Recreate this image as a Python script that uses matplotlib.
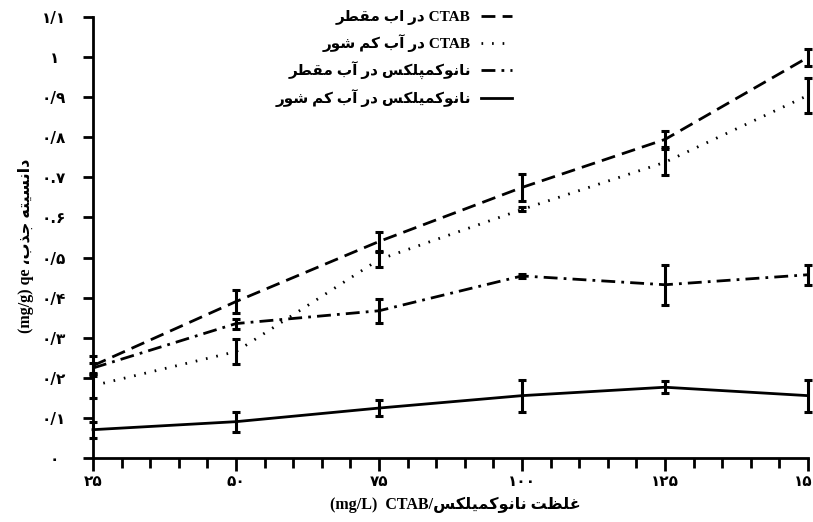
import matplotlib
matplotlib.use("Agg")
import matplotlib.pyplot as plt
from matplotlib.font_manager import FontProperties

# concentration (mg/L)
conc = [25, 50, 75, 100, 125, 150]

ctab_distilled = [0.23, 0.39, 0.54, 0.675, 0.795, 1.0]
ctab_distilled_err = [0.025, 0.029, 0.024, 0.033, 0.02, 0.021]
ctab_brackish = [0.18, 0.265, 0.495, 0.62, 0.738, 0.905]
ctab_brackish_err = [0.03, 0.032, 0.018, 0.005, 0.032, 0.044]
nano_distilled = [0.224, 0.335, 0.367, 0.454, 0.432, 0.457]
nano_distilled_err = [0.012, 0.0125, 0.03, 0.004, 0.05, 0.025]
nano_brackish = [0.07, 0.09, 0.124, 0.155, 0.176, 0.155]
nano_brackish_err = [0.02, 0.025, 0.021, 0.04, 0.015, 0.04]

yticks = [0, 0.1, 0.2, 0.3, 0.4, 0.5, 0.6, 0.7, 0.8, 0.9, 1.0, 1.1]
ytick_labels = ["۰", "۰/۱", "۰/۲", "۰/۳", "۰/۴", "۰/۵", "۰.۶", "۰.۷", "۰/۸", "۰/۹", "۱", "۱/۱"]
xtick_labels = ["۲۵", "۵۰", "۷۵", "۱۰۰", "۱۲۵", "۱۵۰"]

# Arabic presentation forms: isolated, final, initial, medial
FORMS = {
    "ا": ("\uFE8D", "\uFE8E", None, None),
    "آ": ("\uFE81", "\uFE82", None, None),
    "د": ("\uFEA9", "\uFEAA", None, None),
    "ذ": ("\uFEAB", "\uFEAC", None, None),
    "ر": ("\uFEAD", "\uFEAE", None, None),
    "و": ("\uFEED", "\uFEEE", None, None),
    "ب": ("\uFE8F", "\uFE90", "\uFE91", "\uFE92"),
    "ت": ("\uFE95", "\uFE96", "\uFE97", "\uFE98"),
    "ج": ("\uFE9D", "\uFE9E", "\uFE9F", "\uFEA0"),
    "س": ("\uFEB1", "\uFEB2", "\uFEB3", "\uFEB4"),
    "ش": ("\uFEB5", "\uFEB6", "\uFEB7", "\uFEB8"),
    "ط": ("\uFEC1", "\uFEC2", "\uFEC3", "\uFEC4"),
    "ظ": ("\uFEC5", "\uFEC6", "\uFEC7", "\uFEC8"),
    "غ": ("\uFECD", "\uFECE", "\uFECF", "\uFED0"),
    "ق": ("\uFED5", "\uFED6", "\uFED7", "\uFED8"),
    "ل": ("\uFEDD", "\uFEDE", "\uFEDF", "\uFEE0"),
    "م": ("\uFEE1", "\uFEE2", "\uFEE3", "\uFEE4"),
    "ن": ("\uFEE5", "\uFEE6", "\uFEE7", "\uFEE8"),
    "ه": ("\uFEE9", "\uFEEA", "\uFEEB", "\uFEEC"),
    "پ": ("\uFB56", "\uFB57", "\uFB58", "\uFB59"),
    "ک": ("\uFB8E", "\uFB8F", "\uFB90", "\uFB91"),
    "ی": ("\uFBFC", "\uFBFD", "\uFBFE", "\uFBFF"),
}


def fa(text):
    """Shape Persian letters and return them in visual (left-to-right) order."""
    out = []
    for i, ch in enumerate(text):
        if ch not in FORMS:
            out.append(ch)
            continue
        prev = text[i - 1] if i > 0 else ""
        nxt = text[i + 1] if i + 1 < len(text) else ""
        iso, fin, ini, med = FORMS[ch]
        join_prev = prev in FORMS and FORMS[prev][2] is not None
        join_next = ini is not None and nxt in FORMS
        if join_prev and join_next:
            out.append(med)
        elif join_prev:
            out.append(fin)
        elif join_next:
            out.append(ini)
        else:
            out.append(iso)
    return "".join(out)[::-1]


labels = [
    fa("در اب مقطر") + " CTAB",
    fa("در آب کم شور") + " CTAB",
    fa("نانوکمپلکس در آب مقطر"),
    fa("نانوکمیلکس در آب کم شور"),
]

mixed = FontProperties(family=["Liberation Serif", "DejaVu Sans"], weight="bold", size=11)
label_font = FontProperties(family=["Liberation Serif", "DejaVu Sans"], weight="bold", size=11.5)

fig = plt.figure(figsize=(8.13, 5.22), dpi=100)
ax = fig.add_axes([93 / 813, 1 - 457.7 / 522, (808 - 93) / 813, (457.7 - 17.3) / 522])

series = [
    (ctab_distilled, ctab_distilled_err, (0, (5, 2.6))),
    (ctab_brackish, ctab_brackish_err, (0, (0.6, 3.2))),
    (nano_distilled, nano_distilled_err, (0, (5, 2.2, 1, 2.2))),
    (nano_brackish, nano_brackish_err, "-"),
]
handles = []
for vals, err, ls in series:
    line, = ax.plot(conc, vals, color="black", linestyle=ls, linewidth=2.0, clip_on=False)
    ax.errorbar(conc, vals, yerr=err, fmt="none", ecolor="black", elinewidth=2.2,
                capsize=3, capthick=2.2, clip_on=False)
    handles.append(line)

ax.set_xlim(25, 150)
ax.set_ylim(0, 1.1)
ax.spines["top"].set_visible(False)
ax.spines["right"].set_visible(False)
for s in ("left", "bottom"):
    ax.spines[s].set_linewidth(2.0)

ax.set_xticks(conc)
ax.set_xticks(range(25, 151, 5), minor=True)
ax.set_xticklabels(xtick_labels, fontfamily="DejaVu Sans", fontweight="bold", fontsize=11)
ax.set_yticks(yticks)
ax.set_yticklabels(ytick_labels, fontfamily="DejaVu Sans", fontweight="bold", fontsize=11,
                   ha="center")
ax.tick_params(axis="x", which="major", direction="out", length=9, width=2, pad=3)
ax.tick_params(axis="x", which="minor", direction="out", length=7, width=2)
ax.tick_params(axis="y", which="major", direction="out", length=7, width=2, pad=21)

ax.set_xlabel("(mg/L)  CTAB/" + fa("غلظت نانوکمیلکس"), fontproperties=label_font)
ax.xaxis.set_label_coords(0.507, -0.09)
ax.set_ylabel("(mg/g) qe " + fa("دانسیته جذب،"), fontproperties=label_font)
ax.yaxis.set_label_coords(-0.083, 0.48)

ax.legend(handles, labels, prop=mixed, loc="upper right", markerfirst=False,
          frameon=False, bbox_to_anchor=(512 / 813, 1 - 10 / 522),
          bbox_transform=fig.transFigure, borderpad=0, borderaxespad=0,
          handlelength=2.0, handletextpad=0.7, labelspacing=0.62)

fig.savefig("out.png", dpi=100)
